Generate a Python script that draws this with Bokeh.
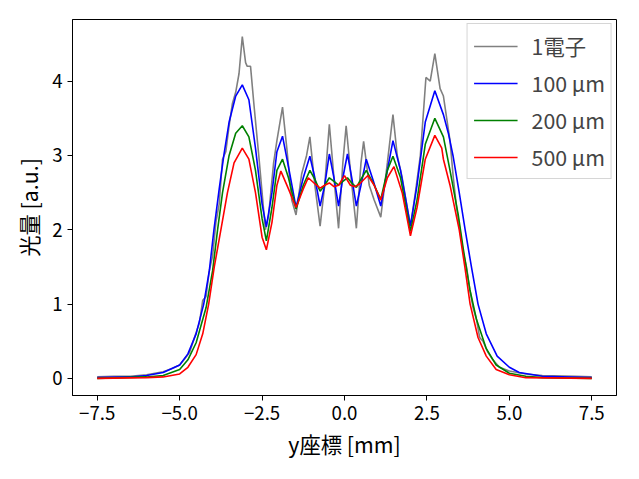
from bokeh.plotting import figure
from bokeh.models import Range1d, FixedTicker, Legend, LegendItem
from bokeh.embed import file_html
from bokeh.resources import INLINE

FONT = "Noto Sans CJK JP"

x_gray = [-7.5, -7.0, -6.5, -6.0, -5.75, -5.5, -5.25, -5.0, -4.85, -4.7, -4.55, -4.4, -4.3, -4.2, -4.1,
          -4.0, -3.9, -3.8, -3.7, -3.6, -3.5, -3.4, -3.3, -3.2, -3.1, -3.0, -2.95, -2.85, -2.75, -2.6,
          -2.5, -2.4, -2.3, -2.15, -2.05, -1.88, -1.75, -1.6, -1.47, -1.3, -1.15, -1.05, -0.9, -0.74,
          -0.6, -0.46, -0.3, -0.18, -0.05, 0.05, 0.2, 0.36, 0.5, 0.58, 0.75, 0.9, 1.1, 1.3, 1.47, 1.6,
          1.75, 2.0, 2.15, 2.3, 2.47, 2.6, 2.74, 2.9, 3.0, 3.1, 3.2, 3.3, 3.4, 3.5, 3.6, 3.7, 3.8, 3.9,
          4.0, 4.1, 4.2, 4.35, 4.5, 4.7, 5.0, 5.5, 6.0, 7.0, 7.5]
y_gray = [0.02, 0.03, 0.03, 0.05, 0.07, 0.09, 0.13, 0.18, 0.26, 0.35, 0.55, 0.75, 1.05, 1.1, 1.45,
          1.65, 2.1, 2.35, 2.95, 3.05, 3.4, 3.7, 3.85, 4.1, 4.6, 4.25, 4.2, 4.2, 3.7, 3.0,
          2.5, 2.0, 2.2, 2.9, 3.2, 3.65, 3.1, 2.4, 2.2, 2.75, 3.0, 3.25, 2.6, 2.05,
          2.6, 3.42, 2.6, 2.02, 2.9, 3.4, 2.7, 2.02, 2.9, 3.19, 2.6, 2.4, 2.17, 2.9, 3.55, 3.0,
          2.7, 2.05, 2.5, 3.0, 4.05, 4.0, 4.37, 3.9, 3.8, 3.5, 3.2, 2.7, 2.3, 2.0, 1.7, 1.5, 1.2, 0.95,
          0.8, 0.55, 0.5, 0.35, 0.25, 0.15, 0.1, 0.06, 0.04, 0.03, 0.02]

x_100 = [-7.5, -6.5, -6.0, -5.5, -5.0, -4.75, -4.5, -4.27, -4.1, -3.96, -3.8, -3.66, -3.5, -3.3, -3.1,
         -2.9, -2.7, -2.5, -2.37, -2.2, -2.05, -1.88, -1.7, -1.47, -1.25, -1.05, -0.9, -0.74, -0.6,
         -0.46, -0.32, -0.18, -0.05, 0.09, 0.22, 0.36, 0.5, 0.66, 0.88, 1.1, 1.3, 1.47, 1.7, 2.0, 2.2,
         2.45, 2.74, 3.0, 3.15, 3.29, 3.48, 3.66, 3.85, 4.05, 4.3, 4.63, 5.0, 5.3, 6.0, 7.5]
y_100 = [0.01, 0.02, 0.04, 0.08, 0.18, 0.33, 0.6, 1.0, 1.45, 2.0, 2.55, 3.0, 3.45, 3.8, 3.95,
         3.75, 3.1, 2.35, 2.04, 2.5, 3.05, 3.26, 2.85, 2.30, 2.7, 2.99, 2.7, 2.32, 2.6,
         3.02, 2.7, 2.32, 2.7, 3.02, 2.7, 2.32, 2.6, 2.95, 2.65, 2.32, 2.8, 3.2, 2.8, 2.05, 2.6,
         3.45, 3.87, 3.55, 3.3, 3.0, 2.5, 2.0, 1.5, 1.0, 0.6, 0.3, 0.15, 0.08, 0.03, 0.01]

x_200 = [-7.5, -6.0, -5.5, -5.0, -4.75, -4.5, -4.2, -4.0, -3.85, -3.7, -3.5, -3.3, -3.1, -2.9, -2.7,
         -2.5, -2.37, -2.2, -2.05, -1.88, -1.7, -1.47, -1.25, -1.05, -0.9, -0.74, -0.6, -0.46, -0.32,
         -0.18, -0.05, 0.09, 0.22, 0.36, 0.5, 0.66, 0.88, 1.1, 1.3, 1.47, 1.7, 2.0, 2.2, 2.45, 2.74,
         3.0, 3.2, 3.45, 3.6, 3.8, 4.0, 4.3, 4.6, 5.0, 5.5, 6.0, 7.5]
y_200 = [0.0, 0.02, 0.04, 0.12, 0.25, 0.48, 0.95, 1.45, 2.0, 2.5, 3.0, 3.3, 3.40, 3.25, 2.8,
         2.15, 1.85, 2.3, 2.8, 2.95, 2.7, 2.28, 2.6, 2.80, 2.68, 2.52, 2.6, 2.70, 2.65,
         2.60, 2.65, 2.70, 2.63, 2.57, 2.68, 2.80, 2.62, 2.41, 2.8, 2.99, 2.7, 1.98, 2.4, 3.15, 3.50,
         3.25, 2.8, 2.2, 1.75, 1.2, 0.8, 0.4, 0.18, 0.07, 0.03, 0.01, 0.0]

x_500 = [-7.5, -6.0, -5.5, -5.0, -4.75, -4.5, -4.3, -4.12, -3.95, -3.75, -3.55, -3.35, -3.1, -2.9,
         -2.7, -2.5, -2.37, -2.2, -2.05, -1.93, -1.7, -1.47, -1.25, -1.1, -0.9, -0.74, -0.6, -0.46,
         -0.32, -0.18, 0.0, 0.18, 0.32, 0.46, 0.71, 0.9, 1.1, 1.3, 1.5, 1.75, 2.0, 2.2, 2.45, 2.74,
         2.95, 3.0, 3.2, 3.48, 3.65, 3.81, 4.05, 4.3, 4.6, 5.0, 5.5, 7.5]
y_500 = [0.0, 0.01, 0.02, 0.06, 0.15, 0.32, 0.6, 1.0, 1.5, 2.0, 2.5, 2.9, 3.10, 2.95,
         2.5, 1.9, 1.73, 2.1, 2.6, 2.79, 2.55, 2.30, 2.55, 2.70, 2.62, 2.56, 2.60, 2.63,
         2.58, 2.60, 2.73, 2.60, 2.58, 2.62, 2.73, 2.6, 2.40, 2.7, 2.85, 2.5, 1.92, 2.3, 2.95, 3.27,
         3.1, 2.95, 2.6, 2.0, 1.5, 1.0, 0.55, 0.3, 0.12, 0.05, 0.01, 0.0]

series = [
    ("1電子", x_gray, y_gray, "gray"),
    ("100 μm", x_100, y_100, "blue"),
    ("200 μm", x_200, y_200, "green"),
    ("500 μm", x_500, y_500, "red"),
]

p = figure(width=623, height=463, output_backend="svg", toolbar_location=None,
           x_range=Range1d(-8.25, 8.25), y_range=Range1d(-0.23, 4.83),
           min_border_left=72, min_border_right=7, min_border_top=19, min_border_bottom=68)

items = []
for label, xs, ys, color in series:
    r = p.line(xs, ys, line_color=color, line_width=1.6)
    items.append(LegendItem(label=label, renderers=[r]))

legend = Legend(items=items, location="top_right", label_text_font=FONT, label_text_font_size="16pt",
                border_line_color="#cccccc", border_line_alpha=0.8, background_fill_alpha=0.8,
                glyph_width=44, label_standoff=14, spacing=6, padding=6, margin=4)
p.add_layout(legend)

p.xgrid.visible = False
p.ygrid.visible = False
p.outline_line_color = "black"
p.xaxis.ticker = FixedTicker(ticks=[-7.5, -5.0, -2.5, 0.0, 2.5, 5.0, 7.5])
p.yaxis.ticker = FixedTicker(ticks=[0, 1, 2, 3, 4])
p.xaxis.major_label_overrides = {-7.5: "−7.5", -5.0: "−5.0", -2.5: "−2.5", 0.0: "0.0",
                                 2.5: "2.5", 5.0: "5.0", 7.5: "7.5"}
p.xaxis.axis_label = "y座標 [mm]"
p.yaxis.axis_label = "光量 [a.u.]"
for ax in (p.xaxis, p.yaxis):
    ax.axis_label_text_font = FONT
    ax.axis_label_text_font_size = "16pt"
    ax.axis_label_text_font_style = "normal"
    ax.axis_label_text_color = "black"
    ax.major_label_text_font = FONT
    ax.major_label_text_font_size = "14pt"
    ax.minor_tick_line_color = None
    ax.major_tick_out = 5
    ax.major_tick_in = 0
    ax.axis_line_color = "black"
    ax.major_label_text_color = "black"

open("out.html", "w").write(file_html(p, INLINE))
